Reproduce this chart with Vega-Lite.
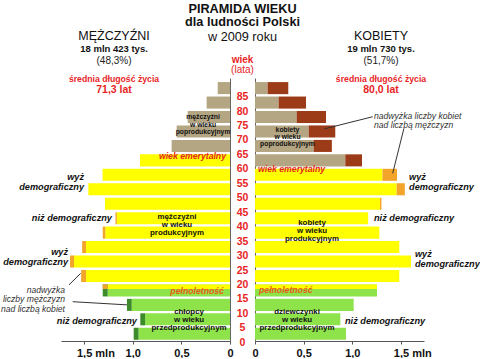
{
  "$schema": "https://vega.github.io/schema/vega-lite/v6.json",
  "background": "white",
  "padding": {"left": 0, "top": 2, "right": 0, "bottom": 0},
  "autosize": {"type": "pad"},
  "bounds": "flush",
  "spacing": 0,
  "config": {"view": {"stroke": null}, "font": "Liberation Sans"},
  "hconcat": [
    {
      "width": 169,
      "height": 263,
      "encoding": {
        "x": {"field": "v", "type": "quantitative", "title": null,
          "scale": {"domain": [0, 1.737], "reverse": true, "nice": false, "zero": false},
          "axis": {"values": [0, 0.5, 1, 1.5],
            "labelExpr": "datum.value == 0 ? '0' : datum.value == 1.5 ? '1,5 mln' : replace(format(datum.value, '.1f'), '.', ',')",
            "labelFontWeight": "bold", "labelFontSize": 11, "labelColor": "#111", "labelFlush": false, "labelOverlap": false,
            "labelPadding": 3, "tickSize": 3, "tickColor": "#555", "domainColor": "#555", "grid": false,
            "labelAlign": {"condition": {"test": "datum.value == 1.5", "value": "left"}, "value": "center"},
            "labelOffset": {"condition": {"test": "datum.value == 1.5", "value": -7.6}, "value": 0}}},
        "y": {"field": "age", "type": "quantitative", "title": null,
          "scale": {"domain": [0, 91], "nice": false, "zero": false},
          "axis": {"orient": "right", "labels": false, "ticks": false, "grid": false, "domainColor": "#666"}}
      },
      "layer": [
        {
          "data": {"values": [
            {"age": 85, "age2": 90, "v": 0, "v2": 0.126, "kind": "post"},
            {"age": 80, "age2": 85, "v": 0, "v2": 0.24, "kind": "post"},
            {"age": 75, "age2": 80, "v": 0, "v2": 0.435, "kind": "post"},
            {"age": 70, "age2": 75, "v": 0, "v2": 0.548, "kind": "post"},
            {"age": 65, "age2": 70, "v": 0, "v2": 0.60, "kind": "post"},
            {"age": 60, "age2": 65, "v": 0, "v2": 0.925, "kind": "prod"},
            {"age": 55, "age2": 60, "v": 0, "v2": 1.31, "kind": "prod"},
            {"age": 50, "age2": 55, "v": 0, "v2": 1.456, "kind": "prod"},
            {"age": 45, "age2": 50, "v": 0, "v2": 1.285, "kind": "prod"},
            {"age": 40, "age2": 45, "v": 0, "v2": 1.163, "kind": "prod"},
            {"age": 40, "age2": 45, "v": 1.163, "v2": 1.177, "kind": "prod_x"},
            {"age": 35, "age2": 40, "v": 0, "v2": 1.282, "kind": "prod"},
            {"age": 35, "age2": 40, "v": 1.282, "v2": 1.308, "kind": "prod_x"},
            {"age": 30, "age2": 35, "v": 0, "v2": 1.48, "kind": "prod"},
            {"age": 30, "age2": 35, "v": 1.48, "v2": 1.52, "kind": "prod_x"},
            {"age": 25, "age2": 30, "v": 0, "v2": 1.603, "kind": "prod"},
            {"age": 25, "age2": 30, "v": 1.603, "v2": 1.644, "kind": "prod_x"},
            {"age": 20, "age2": 25, "v": 0, "v2": 1.48, "kind": "prod"},
            {"age": 20, "age2": 25, "v": 1.48, "v2": 1.53, "kind": "prod_x"},
            {"age": 15, "age2": 20, "v": 0, "v2": 1.257, "kind": "pre"},
            {"age": 15, "age2": 20, "v": 1.257, "v2": 1.308, "kind": "pre_x"},
            {"age": 10, "age2": 15, "v": 0, "v2": 1.01, "kind": "pre"},
            {"age": 10, "age2": 15, "v": 1.01, "v2": 1.059, "kind": "pre_x"},
            {"age": 5, "age2": 10, "v": 0, "v2": 0.873, "kind": "pre"},
            {"age": 5, "age2": 10, "v": 0.873, "v2": 0.922, "kind": "pre_x"},
            {"age": 0, "age2": 5, "v": 0, "v2": 0.94, "kind": "pre"},
            {"age": 0, "age2": 5, "v": 0.94, "v2": 0.99, "kind": "pre_x"}
          ]},
          "mark": {"type": "rect", "yOffset": -1.2, "y2Offset": 1.2},
          "encoding": {
            "x2": {"field": "v2"}, "y2": {"field": "age2"},
            "color": {"field": "kind", "type": "nominal", "legend": null,
              "scale": {"domain": ["post", "post_x", "prod", "prod_x", "pre", "pre_x"],
                "range": ["#b4a583", "#9c3b17", "#ffff00", "#f2a52a", "#8ee24a", "#3c8c2c"]}}
          }
        },
        {
          "data": {"values": [
            {"age": 18, "age2": 20, "v": 0, "v2": 1.257, "kind": "prod"},
            {"age": 18, "age2": 20, "v": 1.257, "v2": 1.308, "kind": "prod_x"}
          ]},
          "mark": {"type": "rect", "yOffset": 0, "y2Offset": 1.2},
          "encoding": {
            "x2": {"field": "v2"}, "y2": {"field": "age2"},
            "color": {"field": "kind", "type": "nominal", "legend": null,
              "scale": {"domain": ["post", "post_x", "prod", "prod_x", "pre", "pre_x"],
                "range": ["#b4a583", "#9c3b17", "#ffff00", "#f2a52a", "#8ee24a", "#3c8c2c"]}}
          }
        },
        {
          "data": {"values": [
            {"v": 1.655, "age": 19.4, "v2": 1.535, "age2": 23.4},
            {"v": 1.617, "age": 13.6, "v2": 1.059, "age2": 12.5}
          ]},
          "mark": {"type": "rule", "color": "#333", "strokeWidth": 1},
          "encoding": {"x2": {"field": "v2"}, "y2": {"field": "age2"}}
        },
        {
          "data": {"values": [{"t": "MĘŻCZYŹNI", "v": 1.192, "age": 105.5}]},
          "mark": {"type": "text", "align": "center", "baseline": "middle", "fontSize": 12.5, "color": "#111"},
          "encoding": {"text": {"field": "t"}}
        },
        {
          "data": {"values": [{"t": "18 mln 423 tys.", "v": 1.192, "age": 100.9}]},
          "mark": {"type": "text", "align": "center", "baseline": "middle", "fontSize": 9.5, "fontWeight": "bold", "color": "#111"},
          "encoding": {"text": {"field": "t"}}
        },
        {
          "data": {"values": [{"t": "(48,3%)", "v": 1.192, "age": 97.0}]},
          "mark": {"type": "text", "align": "center", "baseline": "middle", "fontSize": 10, "color": "#222"},
          "encoding": {"text": {"field": "t"}}
        },
        {
          "data": {"values": [{"t": "średnia długość życia", "v": 1.192, "age": 90.7}]},
          "mark": {"type": "text", "align": "center", "baseline": "middle", "fontSize": 8.7, "fontWeight": "bold", "color": "#e8251f"},
          "encoding": {"text": {"field": "t"}}
        },
        {
          "data": {"values": [{"t": "71,3 lat", "v": 1.192, "age": 87.0}]},
          "mark": {"type": "text", "align": "center", "baseline": "middle", "fontSize": 10.5, "fontWeight": "bold", "color": "#e8251f"},
          "encoding": {"text": {"field": "t"}}
        },
        {
          "data": {"values": [
            {"t": "mężczyźni", "v": 0.277, "age": 77.44},
            {"t": "w wieku", "v": 0.277, "age": 74.84},
            {"t": "poprodukcyjnym", "v": 0.277, "age": 72.25}
          ]},
          "mark": {"type": "text", "align": "center", "baseline": "middle", "fontSize": 6.8, "fontWeight": "bold", "color": "#111"},
          "encoding": {"text": {"field": "t"}}
        },
        {
          "data": {"values": [
            {"t": "mężczyźni", "v": 0.545, "age": 43.05},
            {"t": "w wieku", "v": 0.545, "age": 40.3},
            {"t": "produkcyjnym", "v": 0.545, "age": 37.5},
            {"t": "chłopcy", "v": 0.421, "age": 10.0},
            {"t": "w wieku", "v": 0.421, "age": 7.27},
            {"t": "przedprodukcyjnym", "v": 0.421, "age": 4.5}
          ]},
          "mark": {"type": "text", "align": "center", "baseline": "middle", "fontSize": 7.9, "fontWeight": "bold", "color": "#111"},
          "encoding": {"text": {"field": "t"}}
        },
        {
          "data": {"values": [
            {"t": "wyż", "v": 1.50, "age": 56.9},
            {"t": "demograficzny", "v": 1.50, "age": 53.3},
            {"t": "niż demograficzny", "v": 1.213, "age": 42.7},
            {"t": "wyż", "v": 1.665, "age": 30.9},
            {"t": "demograficzny", "v": 1.665, "age": 27.4},
            {"t": "niż demograficzny", "v": 0.956, "age": 7.0}
          ]},
          "mark": {"type": "text", "align": "right", "baseline": "middle", "fontSize": 9.2, "fontWeight": "bold", "fontStyle": "italic", "color": "#111"},
          "encoding": {"text": {"field": "t"}}
        },
        {
          "data": {"values": [{"t": "wiek emerytalny", "v": 0.041, "age": 64.0}]},
          "mark": {"type": "text", "align": "right", "baseline": "middle", "fontSize": 8.7, "fontWeight": "bold", "fontStyle": "italic", "color": "#e3271b"},
          "encoding": {"text": {"field": "t"}}
        },
        {
          "data": {"values": [{"t": "pełnoletność", "v": 0.062, "age": 17.4}]},
          "mark": {"type": "text", "align": "right", "baseline": "middle", "fontSize": 8.7, "fontWeight": "bold", "fontStyle": "italic", "color": "#ea5a1c"},
          "encoding": {"text": {"field": "t"}}
        },
        {
          "data": {"values": [
            {"t": "nadwyżka", "v": 1.696, "age": 17.6},
            {"t": "liczby mężczyzn", "v": 1.696, "age": 14.4},
            {"t": "nad liczbą kobiet", "v": 1.696, "age": 11.1}
          ]},
          "mark": {"type": "text", "align": "right", "baseline": "middle", "fontSize": 8.6, "fontStyle": "italic", "color": "#333"},
          "encoding": {"text": {"field": "t"}}
        }
      ]
    },
    {
      "width": 25,
      "height": 263,
      "encoding": {
        "x": {"datum": 0.5, "type": "quantitative", "scale": {"domain": [0, 1], "nice": false, "zero": false}, "axis": null},
        "y": {"field": "age", "type": "quantitative", "title": null, "scale": {"domain": [0, 91], "nice": false, "zero": false}, "axis": null}
      },
      "layer": [
        {
          "data": {"values": [{"t": "PIRAMIDA WIEKU", "age": 115.0}, {"t": "dla ludności Polski", "age": 110.4}]},
          "mark": {"type": "text", "align": "center", "baseline": "middle", "fontSize": 12.7, "fontWeight": "bold", "color": "#111"},
          "encoding": {"text": {"field": "t"}}
        },
        {
          "data": {"values": [{"t": "w 2009 roku", "age": 105.3}]},
          "mark": {"type": "text", "align": "center", "baseline": "middle", "fontSize": 12.7, "color": "#111"},
          "encoding": {"text": {"field": "t"}}
        },
        {
          "data": {"values": [{"t": "wiek", "age": 97.1}]},
          "mark": {"type": "text", "align": "center", "baseline": "middle", "fontSize": 10, "fontWeight": "bold", "color": "#e8251f"},
          "encoding": {"text": {"field": "t"}}
        },
        {
          "data": {"values": [{"t": "(lata)", "age": 93.6}]},
          "mark": {"type": "text", "align": "center", "baseline": "middle", "fontSize": 10, "color": "#e8251f"},
          "encoding": {"text": {"field": "t"}}
        },
        {
          "data": {"values": [
            {"t": "0", "age": 0}, {"t": "5", "age": 5}, {"t": "10", "age": 10}, {"t": "15", "age": 15},
            {"t": "20", "age": 20}, {"t": "25", "age": 25}, {"t": "30", "age": 30}, {"t": "35", "age": 35},
            {"t": "40", "age": 40}, {"t": "45", "age": 45}, {"t": "50", "age": 50}, {"t": "55", "age": 55},
            {"t": "60", "age": 60}, {"t": "65", "age": 65}, {"t": "70", "age": 70}, {"t": "75", "age": 75},
            {"t": "80", "age": 80}, {"t": "85", "age": 85}
          ]},
          "mark": {"type": "text", "align": "center", "baseline": "middle", "fontSize": 10.5, "fontWeight": "bold", "color": "#e8251f", "dy": 1.8},
          "encoding": {"text": {"field": "t"}}
        }
      ]
    },
    {
      "width": 169,
      "height": 263,
      "encoding": {
        "x": {"field": "v", "type": "quantitative", "title": null,
          "scale": {"domain": [0, 1.737], "nice": false, "zero": false},
          "axis": {"values": [0, 0.5, 1, 1.5],
            "labelExpr": "datum.value == 0 ? '0' : datum.value == 1.5 ? '1,5 mln' : replace(format(datum.value, '.1f'), '.', ',')",
            "labelFontWeight": "bold", "labelFontSize": 11, "labelColor": "#111", "labelFlush": false, "labelOverlap": false,
            "labelPadding": 3, "tickSize": 3, "tickColor": "#555", "domainColor": "#555", "grid": false,
            "labelAlign": {"condition": {"test": "datum.value == 1.5", "value": "left"}, "value": "center"},
            "labelOffset": {"condition": {"test": "datum.value == 1.5", "value": -7.6}, "value": 0}}},
        "y": {"field": "age", "type": "quantitative", "title": null,
          "scale": {"domain": [0, 91], "nice": false, "zero": false},
          "axis": {"orient": "left", "labels": false, "ticks": false, "grid": false, "domainColor": "#666"}}
      },
      "layer": [
        {
          "data": {"values": [
            {"age": 85, "age2": 90, "v": 0, "v2": 0.13, "kind": "post"},
            {"age": 85, "age2": 90, "v": 0.13, "v2": 0.342, "kind": "post_x"},
            {"age": 80, "age2": 85, "v": 0, "v2": 0.243, "kind": "post"},
            {"age": 80, "age2": 85, "v": 0.243, "v2": 0.524, "kind": "post_x"},
            {"age": 75, "age2": 80, "v": 0, "v2": 0.428, "kind": "post"},
            {"age": 75, "age2": 80, "v": 0.428, "v2": 0.73, "kind": "post_x"},
            {"age": 70, "age2": 75, "v": 0, "v2": 0.552, "kind": "post"},
            {"age": 70, "age2": 75, "v": 0.552, "v2": 0.825, "kind": "post_x"},
            {"age": 65, "age2": 70, "v": 0, "v2": 0.603, "kind": "post"},
            {"age": 65, "age2": 70, "v": 0.603, "v2": 0.79, "kind": "post_x"},
            {"age": 60, "age2": 65, "v": 0, "v2": 0.928, "kind": "post"},
            {"age": 60, "age2": 65, "v": 0.928, "v2": 1.10, "kind": "post_x"},
            {"age": 55, "age2": 60, "v": 0, "v2": 1.31, "kind": "prod"},
            {"age": 55, "age2": 60, "v": 1.31, "v2": 1.46, "kind": "prod_x"},
            {"age": 50, "age2": 55, "v": 0, "v2": 1.456, "kind": "prod"},
            {"age": 50, "age2": 55, "v": 1.456, "v2": 1.54, "kind": "prod_x"},
            {"age": 45, "age2": 50, "v": 0, "v2": 1.285, "kind": "prod"},
            {"age": 45, "age2": 50, "v": 1.285, "v2": 1.30, "kind": "prod_x"},
            {"age": 40, "age2": 45, "v": 0, "v2": 1.163, "kind": "prod"},
            {"age": 35, "age2": 40, "v": 0, "v2": 1.278, "kind": "prod"},
            {"age": 30, "age2": 35, "v": 0, "v2": 1.483, "kind": "prod"},
            {"age": 25, "age2": 30, "v": 0, "v2": 1.603, "kind": "prod"},
            {"age": 20, "age2": 25, "v": 0, "v2": 1.483, "kind": "prod"},
            {"age": 15, "age2": 20, "v": 0, "v2": 1.254, "kind": "pre"},
            {"age": 10, "age2": 15, "v": 0, "v2": 1.014, "kind": "pre"},
            {"age": 5, "age2": 10, "v": 0, "v2": 0.877, "kind": "pre"},
            {"age": 0, "age2": 5, "v": 0, "v2": 0.935, "kind": "pre"}
          ]},
          "mark": {"type": "rect", "yOffset": -1.2, "y2Offset": 1.2},
          "encoding": {
            "x2": {"field": "v2"}, "y2": {"field": "age2"},
            "color": {"field": "kind", "type": "nominal", "legend": null,
              "scale": {"domain": ["post", "post_x", "prod", "prod_x", "pre", "pre_x"],
                "range": ["#b4a583", "#9c3b17", "#ffff00", "#f2a52a", "#8ee24a", "#3c8c2c"]}}
          }
        },
        {
          "data": {"values": [{"age": 18, "age2": 20, "v": 0, "v2": 1.254, "kind": "prod"}]},
          "mark": {"type": "rect", "yOffset": 0, "y2Offset": 1.2},
          "encoding": {
            "x2": {"field": "v2"}, "y2": {"field": "age2"},
            "color": {"field": "kind", "type": "nominal", "legend": null,
              "scale": {"domain": ["post", "post_x", "prod", "prod_x", "pre", "pre_x"],
                "range": ["#b4a583", "#9c3b17", "#ffff00", "#f2a52a", "#8ee24a", "#3c8c2c"]}}
          }
        },
        {
          "data": {"values": [
            {"v": 1.21, "age": 77.6, "v2": 0.712, "age2": 73.4},
            {"v": 1.531, "age": 73.6, "v2": 1.415, "age2": 58.0}
          ]},
          "mark": {"type": "rule", "color": "#333", "strokeWidth": 1},
          "encoding": {"x2": {"field": "v2"}, "y2": {"field": "age2"}}
        },
        {
          "data": {"values": [{"t": "KOBIETY", "v": 1.295, "age": 105.5}]},
          "mark": {"type": "text", "align": "center", "baseline": "middle", "fontSize": 12.5, "color": "#111"},
          "encoding": {"text": {"field": "t"}}
        },
        {
          "data": {"values": [{"t": "19 mln 730 tys.", "v": 1.295, "age": 100.9}]},
          "mark": {"type": "text", "align": "center", "baseline": "middle", "fontSize": 9.5, "fontWeight": "bold", "color": "#111"},
          "encoding": {"text": {"field": "t"}}
        },
        {
          "data": {"values": [{"t": "(51,7%)", "v": 1.295, "age": 97.0}]},
          "mark": {"type": "text", "align": "center", "baseline": "middle", "fontSize": 10, "color": "#222"},
          "encoding": {"text": {"field": "t"}}
        },
        {
          "data": {"values": [{"t": "średnia długość życia", "v": 1.295, "age": 90.7}]},
          "mark": {"type": "text", "align": "center", "baseline": "middle", "fontSize": 8.7, "fontWeight": "bold", "color": "#e8251f"},
          "encoding": {"text": {"field": "t"}}
        },
        {
          "data": {"values": [{"t": "80,0 lat", "v": 1.295, "age": 87.0}]},
          "mark": {"type": "text", "align": "center", "baseline": "middle", "fontSize": 10.5, "fontWeight": "bold", "color": "#e8251f"},
          "encoding": {"text": {"field": "t"}}
        },
        {
          "data": {"values": [
            {"t": "kobiety", "v": 0.334, "age": 73.0},
            {"t": "w wieku", "v": 0.334, "age": 70.6},
            {"t": "poprodukcyjnym", "v": 0.334, "age": 68.2}
          ]},
          "mark": {"type": "text", "align": "center", "baseline": "middle", "fontSize": 6.8, "fontWeight": "bold", "color": "#111"},
          "encoding": {"text": {"field": "t"}}
        },
        {
          "data": {"values": [
            {"t": "kobiety", "v": 0.586, "age": 40.8},
            {"t": "w wieku", "v": 0.586, "age": 38.06},
            {"t": "produkcyjnym", "v": 0.586, "age": 35.3},
            {"t": "dziewczynki", "v": 0.432, "age": 10.0},
            {"t": "w wieku", "v": 0.432, "age": 7.27},
            {"t": "przedprodukcyjnym", "v": 0.432, "age": 4.5}
          ]},
          "mark": {"type": "text", "align": "center", "baseline": "middle", "fontSize": 7.9, "fontWeight": "bold", "color": "#111"},
          "encoding": {"text": {"field": "t"}}
        },
        {
          "data": {"values": [
            {"t": "wyż", "v": 1.583, "age": 56.6},
            {"t": "demograficzny", "v": 1.583, "age": 53.4},
            {"t": "niż demograficzny", "v": 1.223, "age": 42.7},
            {"t": "wyż", "v": 1.644, "age": 29.93},
            {"t": "demograficzny", "v": 1.644, "age": 26.47},
            {"t": "niż demograficzny", "v": 0.925, "age": 7.0}
          ]},
          "mark": {"type": "text", "align": "left", "baseline": "middle", "fontSize": 9.2, "fontWeight": "bold", "fontStyle": "italic", "color": "#111"},
          "encoding": {"text": {"field": "t"}}
        },
        {
          "data": {"values": [{"t": "wiek emerytalny", "v": 0.031, "age": 59.5}]},
          "mark": {"type": "text", "align": "left", "baseline": "middle", "fontSize": 8.7, "fontWeight": "bold", "fontStyle": "italic", "color": "#e3271b"},
          "encoding": {"text": {"field": "t"}}
        },
        {
          "data": {"values": [{"t": "pełnoletność", "v": 0.041, "age": 17.6}]},
          "mark": {"type": "text", "align": "left", "baseline": "middle", "fontSize": 8.7, "fontWeight": "bold", "fontStyle": "italic", "color": "#ea5a1c"},
          "encoding": {"text": {"field": "t"}}
        },
        {
          "data": {"values": [
            {"t": "nadwyżka liczby kobiet", "v": 1.223, "age": 78.0},
            {"t": "nad liczbą mężczyzn", "v": 1.223, "age": 74.9}
          ]},
          "mark": {"type": "text", "align": "left", "baseline": "middle", "fontSize": 8.6, "fontStyle": "italic", "color": "#333"},
          "encoding": {"text": {"field": "t"}}
        }
      ]
    }
  ]
}
